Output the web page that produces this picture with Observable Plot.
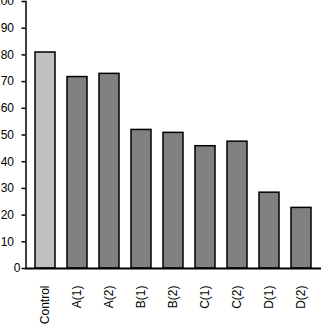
<!DOCTYPE html>
<html>
<head>
<meta charset="utf-8">
<script src="https://cdn.jsdelivr.net/npm/d3@7"></script>
<script src="https://cdn.jsdelivr.net/npm/@observablehq/plot@0.6"></script>
<style>
  html, body { margin: 0; padding: 0; background: #fff; }
  #chart svg { display: block; font-family: "Liberation Sans", Arial, sans-serif; }
</style>
</head>
<body>
<div id="chart"></div>
<script>
const categories = ["Control", "A(1)", "A(2)", "B(1)", "B(2)", "C(1)", "C(2)", "D(1)", "D(2)"];
const values = [80.9, 71.7, 72.9, 51.9, 50.8, 45.8, 47.5, 28.4, 22.7];
const fills = ["#c0c0c0", "#808080", "#808080", "#808080", "#808080", "#808080", "#808080", "#808080", "#808080"];
const yTicksMain = [10, 20, 30, 40, 50, 60, 70, 80, 90, 100];
const yTickZero = [0];

const data = categories.map((c, i) => ({category: c, value: values[i], fill: fills[i]}));

const chart = Plot.plot({
  width: 321,
  height: 332,
  marginLeft: 25.5,
  marginRight: 0,
  marginTop: 1,
  marginBottom: 64,
  style: {fontFamily: "Liberation Sans, Arial, sans-serif", fontSize: "12px", color: "#000", background: "#fff"},
  x: {domain: categories, paddingInner: 0.375, paddingOuter: 0.1875, axis: null},
  y: {domain: [0, 100], axis: null},
  marks: [
    Plot.barY(data, {x: "category", y: "value", fill: "fill", stroke: "#000", strokeWidth: 1.5}),
    Plot.ruleY([0], {stroke: "#000", strokeWidth: 2}),
    Plot.frame({anchor: "left", stroke: "#000", strokeWidth: 1.5}),
    Plot.axisY({ticks: yTicksMain, label: null, tickSize: 4, tickPadding: 8, fontSize: 12, stroke: "#000", strokeWidth: 1.5, tickFormat: d => String(d)}),
    Plot.axisY({ticks: yTickZero, label: null, tickSize: 4, tickPadding: 1.5, fontSize: 12, stroke: "#000", strokeWidth: 1.5, tickFormat: d => String(d)}),
    Plot.axisX({label: null, tickRotate: -90, tickSize: 0, tickPadding: 17, fontSize: 12})
  ]
});
document.getElementById("chart").appendChild(chart);
</script>
</body>
</html>
